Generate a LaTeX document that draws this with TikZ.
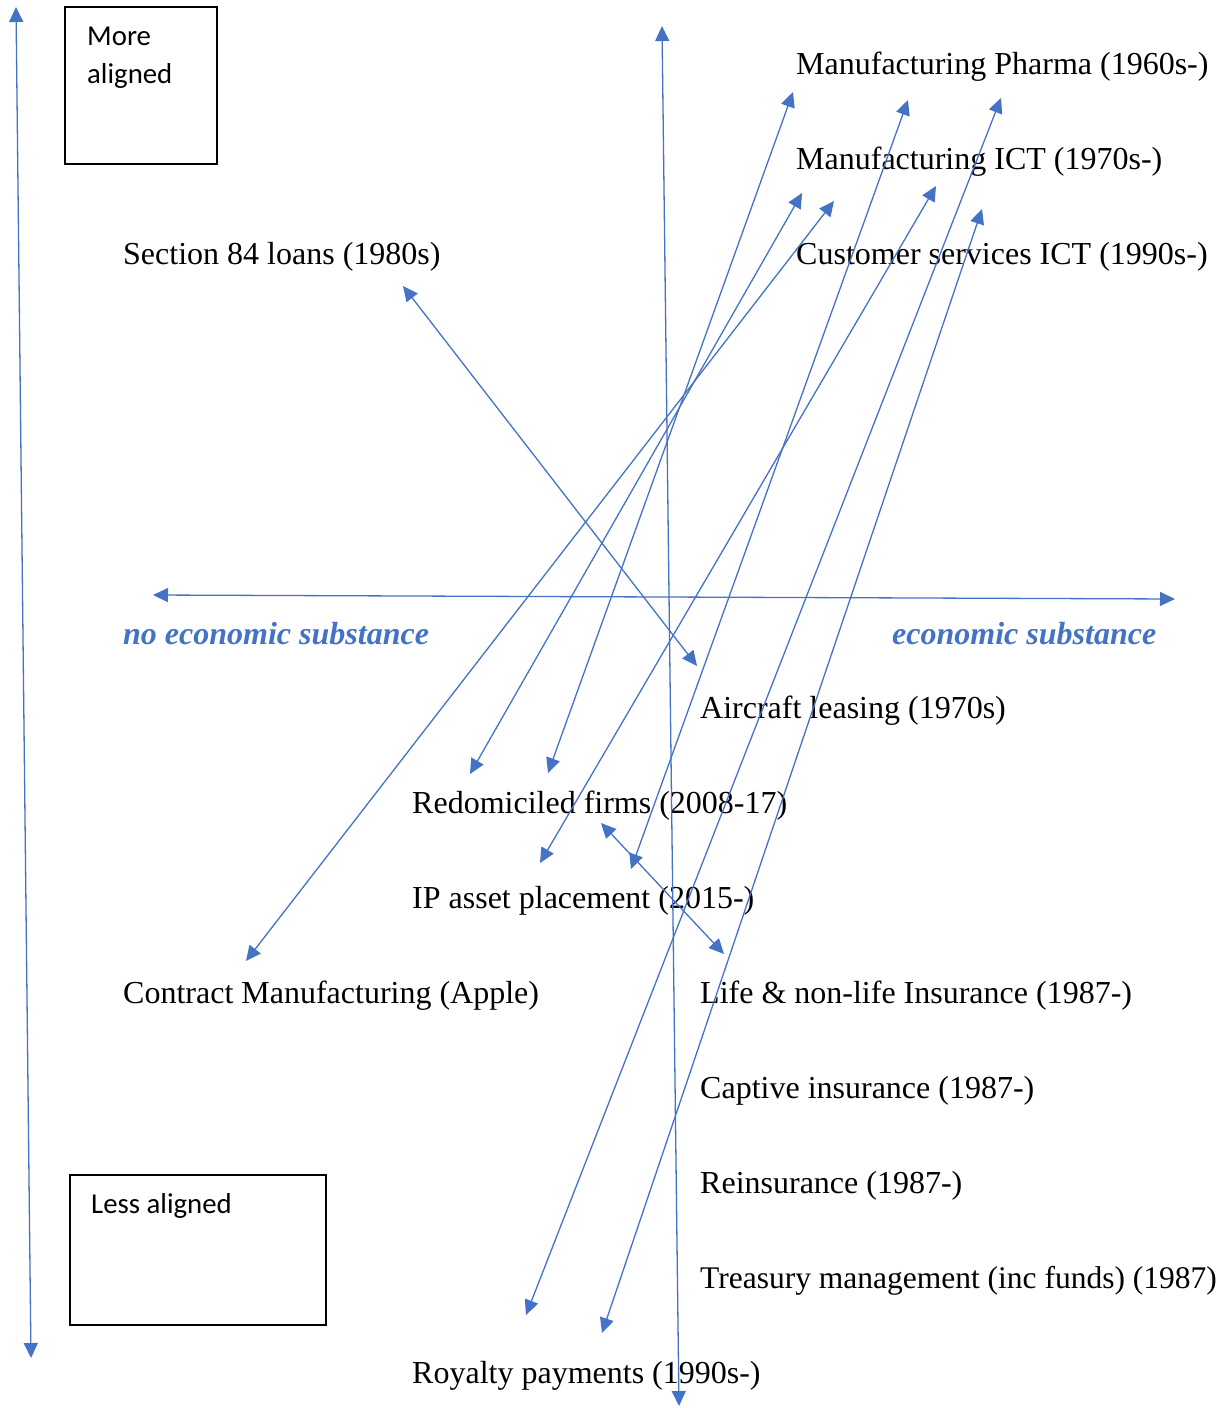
\documentclass[tikz,border=0pt]{standalone}
\usepackage{fontspec}
\setmainfont{Liberation Serif}
\newfontfamily\boxfont{Carlito}
\usetikzlibrary{arrows.meta}
\definecolor{axisblue}{HTML}{4472C4}
\tikzset{
  link/.style={draw=axisblue, line width=1.3pt,
    {Triangle[length=15pt,width=14pt]}-{Triangle[length=15pt,width=14pt]}},
  item/.style={anchor=base west, inner sep=0pt,
    font=\fontsize{32}{38}\selectfont},
  pole/.style={anchor=base west, inner sep=0pt, text=axisblue,
    font=\fontsize{32}{38}\selectfont\bfseries\itshape},
  tag/.style={anchor=base west, inner sep=0pt,
    font=\boxfont\fontsize{28.8}{38}\selectfont},
  frame/.style={draw=black, line width=2pt}
}
\begin{document}
\begin{tikzpicture}[x=1pt, y=-1pt]
\useasboundingbox (0,0) rectangle (1228,1408);

% corner boxes
\draw[frame] (65,7) rectangle (217,164);
\draw[frame] (70,1175) rectangle (326,1325);
\node[tag] (more)  at (87,45) {More};
\node[tag] (more2) at (87,83) {aligned};
\node[tag] (less)  at (91,1213) {Less aligned};

% activity labels
\node[item] (pharma) at (796,74) {Manufacturing Pharma (1960s-)};
\node[item] (mict)   at (796,169) {Manufacturing ICT (1970s-)};
\node[item] (cict)   at (796,264) {Customer services ICT (1990s-)};
\node[item] (s84)    at (123,264) {Section 84 loans (1980s)};
\node[item] (air)    at (700,718) {Aircraft leasing (1970s)};
\node[item] (redom)  at (412,813) {Redomiciled firms (2008-17)};
\node[item] (ip)     at (412,908) {IP asset placement (2015-)};
\node[item] (apple)  at (123,1003) {Contract Manufacturing (Apple)};
\node[item] (life)   at (700,1003) {Life \& non-life Insurance (1987-)};
\node[item] (capt)   at (700,1098) {Captive insurance (1987-)};
\node[item] (reins)  at (700,1193) {Reinsurance (1987-)};
\node[item, font=\fontsize{31.5}{38}\selectfont] (treas) at (700,1288)
  {Treasury management (inc funds) (1987)};
\node[item] (roy)    at (412,1383) {Royalty payments (1990s-)};

% axis labels
\node[pole] (noes) at (123,644) {no economic substance};
\node[pole] (es)   at (892,644) {economic substance};

% arrow end points
\coordinate (vl1) at (16,7);    \coordinate (vl2) at (31,1358);
\coordinate (vc1) at (662,26);  \coordinate (vc2) at (679,1406);
\coordinate (h1)  at (153,595); \coordinate (h2)  at (1175,599);
\coordinate (sa1) at (403,286); \coordinate (sa2) at (697,666);
\coordinate (rl1) at (601,823); \coordinate (rl2) at (724,954);
\coordinate (a1t) at (793,92);  \coordinate (a1b) at (548,773);
\coordinate (a2t) at (908,100); \coordinate (a2b) at (631,869);
\coordinate (a3t) at (1001,98); \coordinate (a3b) at (526,1315);
\coordinate (a4t) at (802,193); \coordinate (a4b) at (470,774);
\coordinate (a5t) at (834,201); \coordinate (a5b) at (246,961);
\coordinate (a6t) at (936,186); \coordinate (a6b) at (540,863);
\coordinate (a7t) at (982,209); \coordinate (a7b) at (602,1333);

% axes
\draw[link] (vl1) -- (vl2);
\draw[link] (vc1) -- (vc2);
\draw[link] (h1) -- (h2);

% links between activities
\draw[link] (sa1) -- (sa2);
\draw[link] (rl1) -- (rl2);
\draw[link] (a1t) -- (a1b);
\draw[link] (a2t) -- (a2b);
\draw[link] (a3t) -- (a3b);
\draw[link] (a4t) -- (a4b);
\draw[link] (a5t) -- (a5b);
\draw[link] (a6t) -- (a6b);
\draw[link] (a7t) -- (a7b);
\end{tikzpicture}
\end{document}
